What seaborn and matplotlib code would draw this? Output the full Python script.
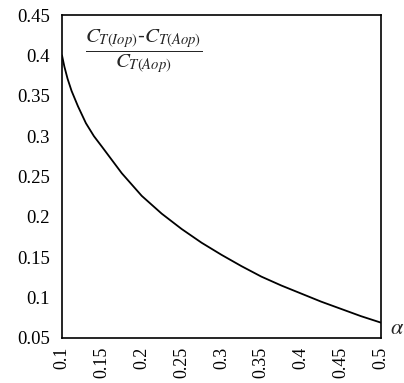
import matplotlib
matplotlib.use("Agg")
import matplotlib.pyplot as plt
import seaborn as sns
import pandas as pd

alpha = [0.1, 0.103, 0.107, 0.112, 0.12, 0.13, 0.14, 0.15, 0.175, 0.2, 0.225, 0.25, 0.275,
         0.3, 0.325, 0.35, 0.375, 0.4, 0.425, 0.45, 0.475, 0.5]
ratio = [0.400, 0.386, 0.371, 0.356, 0.337, 0.316, 0.300, 0.287, 0.254, 0.226, 0.204, 0.185, 0.168,
         0.153, 0.139, 0.126, 0.115, 0.105, 0.095, 0.086, 0.077, 0.069]
xticks = [0.1, 0.15, 0.2, 0.25, 0.3, 0.35, 0.4, 0.45, 0.5]
yticks = [0.05, 0.1, 0.15, 0.2, 0.25, 0.3, 0.35, 0.4, 0.45]

sns.set_theme(style="white")
plt.rcParams['font.family'] = ['Liberation Serif', 'DejaVu Serif']
plt.rcParams['mathtext.fontset'] = 'stix'

df = pd.DataFrame({"alpha": alpha, "ratio": ratio})
fig = plt.figure(figsize=(4.04, 3.83), dpi=100)
ax = fig.add_axes([62/404, 45/383, 319/404, 323/383])
sns.lineplot(data=df, x="alpha", y="ratio", ax=ax, color="black", linewidth=1.3)
ax.set_xlim(0.1, 0.5)
ax.set_ylim(0.05, 0.45)
ax.set_xticks(xticks)
ax.set_xticklabels([f"{v:g}" for v in xticks], rotation=90, fontsize=13)
ax.set_yticks(yticks)
ax.set_yticklabels([f"{v:g}" for v in yticks], fontsize=13.5)
ax.tick_params(axis='y', length=0, pad=8.5, colors="black")
ax.tick_params(axis='x', length=0, pad=6, colors="black")
ax.set_xlabel("")
ax.set_ylabel("")
for s in ax.spines.values():
    s.set_color("black")
    s.set_linewidth(1.2)
ax.text(0.255, 0.889, r'$\dfrac{C_{T(Iop)}\text{-}C_{T(Aop)}}{C_{T(Aop)}}$',
        transform=ax.transAxes, ha='center', va='center', fontsize=15)
ax.text(1.05, 0.025, r'$\alpha$', transform=ax.transAxes, ha='center', va='center', fontsize=16)
fig.savefig("out.png", dpi=100)
